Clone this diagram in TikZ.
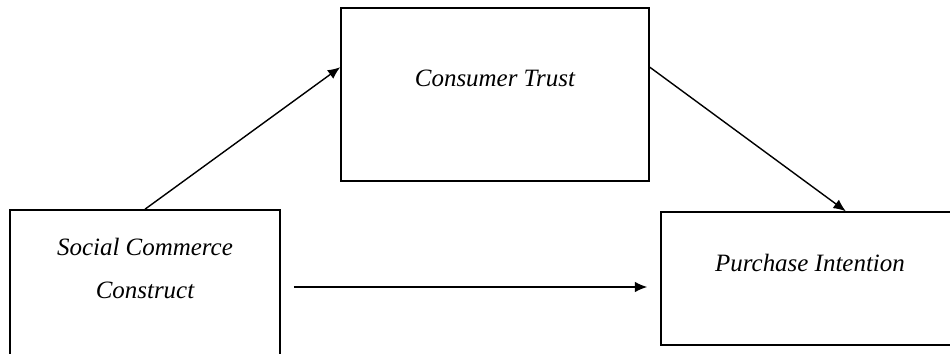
\documentclass[tikz,border=0pt]{standalone}
\usepackage{fontspec}
\setmainfont{Liberation Serif}
\usetikzlibrary{arrows.meta}

\tikzset{
    box/.style={draw, line width=0.9pt},
    boxtext/.style={font=\itshape\fontsize{14.2}{24.4}\selectfont, align=center}
}

\begin{document}
\begin{tikzpicture}[>={Latex[length=7pt,width=6pt]}, line width=0.8pt]

    \clip (0,0) rectangle (19,7.08);

    % Nodes
    \node (social) [box, minimum width=5.4cm, minimum height=3.08cm, label={[boxtext, yshift=0.37cm]center:Social Commerce\\Construct}] at (2.9,1.34) {};
    \node (trust) [box, minimum width=6.16cm, minimum height=3.46cm, label={[boxtext, yshift=0.33cm]center:Consumer Trust}] at (9.9,5.19) {};
    \node (purchase) [box, minimum width=5.96cm, minimum height=2.66cm, label={[boxtext, yshift=0.31cm]center:Purchase Intention}] at (16.2,1.51) {};

    % Arrows
    \draw[->] (social.north) -- (trust.170);
    \draw[->] (trust.10) -- (purchase.62);
    \draw[->, shorten <=0.26cm, shorten >=0.26cm] (social.east) -- (social.east -| purchase.west);

\end{tikzpicture}
\end{document}
